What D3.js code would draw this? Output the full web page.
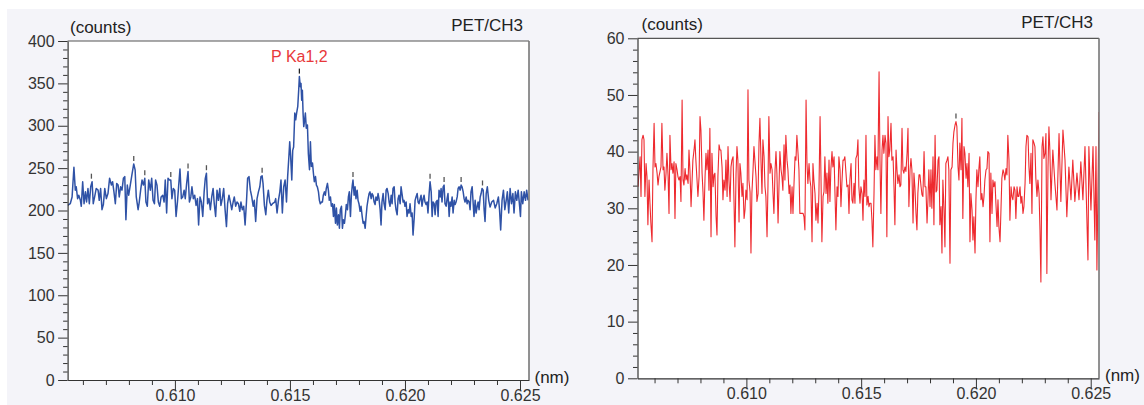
<!DOCTYPE html>
<html><head><meta charset="utf-8">
<script src="https://cdn.jsdelivr.net/npm/d3@7"></script>
<style>
html,body{margin:0;padding:0;background:#fff;}
svg{display:block;font-family:"Liberation Sans",Arial,Helvetica,sans-serif;}
</style></head><body>
<svg id="c" width="1144" height="405"></svg>
<script>
// ---------- DATA ----------
const xMajorTicks = [0.610, 0.615, 0.620, 0.625];
const xMinorTicks = [0.606,0.607,0.608,0.609,0.611,0.612,0.613,0.614,0.616,0.617,0.618,0.619,0.621,0.622,0.623,0.624];
const leftYMajor = [0,50,100,150,200,250,300,350,400];
const rightYMajor = [0,10,20,30,40,50,60];
const crystalLabel = "PET/CH3";
const yUnitLabel = "(counts)";
const xUnitLabel = "(nm)";
const peakName = "P Ka1,2";
const peakWavelength = 0.61541;

const leftWavelength = [
0.60534,0.60545,0.60553,0.60561,0.60567,0.60571,0.60577,0.60582,0.60589,0.60593,
0.60599,0.60605,0.60611,0.60616,0.60622,0.60628,0.60634,0.60640,0.60645,0.60651,
0.60658,0.60666,0.60671,0.60677,0.60683,0.60689,0.60695,0.60702,0.60709,0.60716,
0.60724,0.60729,0.60735,0.60741,0.60747,0.60753,0.60758,0.60764,0.60770,0.60776,
0.60782,0.60787,0.60793,0.60799,0.60806,0.60813,0.60821,0.60827,0.60832,0.60840,
0.60845,0.60851,0.60857,0.60863,0.60869,0.60874,0.60880,0.60886,0.60893,0.60899,
0.60905,0.60911,0.60916,0.60922,0.60928,0.60934,0.60940,0.60947,0.60953,0.60958,
0.60964,0.60970,0.60976,0.60982,0.60987,0.60993,0.60999,0.61005,0.61011,0.61016,
0.61022,0.61028,0.61034,0.61040,0.61045,0.61051,0.61057,0.61063,0.61069,0.61074,
0.61080,0.61086,0.61092,0.61098,0.61103,0.61109,0.61115,0.61121,0.61127,0.61132,
0.61137,0.61142,0.61148,0.61154,0.61160,0.61166,0.61171,0.61177,0.61183,0.61189,
0.61195,0.61200,0.61206,0.61212,0.61218,0.61224,0.61229,0.61235,0.61241,0.61247,
0.61253,0.61258,0.61264,0.61270,0.61276,0.61282,0.61287,0.61293,0.61299,0.61305,
0.61311,0.61316,0.61322,0.61328,0.61334,0.61340,0.61345,0.61351,0.61357,0.61363,
0.61369,0.61374,0.61379,0.61383,0.61389,0.61395,0.61400,0.61406,0.61412,0.61418,
0.61424,
0.61434,0.61438,0.61444,0.61450,0.61456,0.61461,0.61467,0.61473,0.61479,0.61485,
0.61490,0.61495,0.61499,0.61503,0.61508,0.61512,0.61516,0.61521,0.61525,0.61529,
0.61534,0.61538,0.61541,0.61545,0.61548,0.61551,0.61554,0.61557,0.61560,0.61564,
0.61567,0.61571,0.61576,0.61580,0.61585,0.61589,0.61593,0.61598,0.61602,0.61606,
0.61611,0.61615,0.61619,0.61624,0.61628,0.61632,0.61637,0.61641,0.61645,0.61650,
0.61654,0.61658,0.61663,0.61667,0.61671,0.61676,0.61680,0.61685,0.61689,0.61693,
0.61698,0.61702,0.61706,0.61711,0.61715,0.61719,0.61724,0.61728,0.61732,0.61737,
0.61741,0.61745,0.61750,0.61754,0.61758,0.61763,0.61767,0.61771,0.61774,0.61779,
0.61783,0.61787,0.61792,0.61796,0.61800,0.61805,0.61809,0.61814,0.61818,0.61822,
0.61827,0.61831,0.61835,0.61840,0.61844,0.61848,0.61853,0.61857,0.61861,0.61866,
0.61870,0.61874,0.61879,0.61883,0.61887,0.61892,0.61896,0.61900,0.61905,0.61909,
0.61914,0.61918,0.61922,0.61927,0.61931,0.61935,0.61940,0.61944,0.61948,0.61953,
0.61957,0.61961,0.61966,0.61970,0.61974,0.61979,0.61983,0.61987,0.61992,0.61996,
0.62000,0.62005,0.62009,0.62014,0.62018,0.62022,0.62027,0.62031,0.62035,0.62040,
0.62044,0.62048,0.62053,0.62057,0.62061,0.62066,0.62070,0.62074,0.62079,0.62083,
0.62087,0.62092,0.62096,0.62100,0.62105,0.62109,0.62114,0.62118,0.62122,0.62127,
0.62131,0.62135,0.62140,0.62144,0.62148,0.62153,0.62157,0.62161,0.62166,0.62170,
0.62174,0.62179,0.62183,0.62187,0.62192,0.62196,0.62200,0.62205,0.62209,0.62214,
0.62218,0.62222,0.62227,0.62231,0.62235,0.62240,0.62244,0.62248,0.62253,0.62257,
0.62261,0.62266,0.62270,0.62274,0.62279,0.62283,0.62287,0.62292,0.62296,0.62300,
0.62305,0.62309,0.62314,0.62318,0.62322,0.62327,0.62331,0.62335,0.62340,0.62344,
0.62348,0.62353,0.62358,0.62364,0.62370,0.62377,0.62385,0.62392,0.62399,0.62406,
0.62411,0.62416,0.62422,0.62428,0.62434,0.62440,0.62445,0.62451,0.62457,0.62463,
0.62469,0.62474,0.62480,0.62486,0.62492,0.62498,0.62502,0.62506,0.62512,0.62518,
0.62524,0.62529,0.62535
];
const leftCounts = [
206,208,216,251,224,228,214,218,212,205,
234,208,222,210,226,208,228,234,208,216,
226,224,212,226,201,207,226,214,220,238,
230,234,222,208,232,230,216,228,224,238,
240,189,230,218,230,242,255,248,216,201,
210,224,236,230,238,210,205,236,224,238,
212,208,236,230,210,205,216,218,210,236,
197,238,236,236,214,226,224,193,210,228,
249,214,216,224,214,232,246,210,216,228,
214,218,206,214,183,216,210,193,222,238,
244,208,214,201,216,226,208,193,224,212,
226,206,214,226,201,181,208,218,210,201,
210,216,205,210,208,199,210,201,205,183,
210,238,240,224,216,205,212,187,214,222,
228,240,241,232,206,195,212,224,210,206,
208,
210,214,197,212,222,236,197,228,236,210,
240,262,281,264,236,271,275,315,307,315,
323,342,358,346,350,330,342,315,299,307,
315,297,301,267,248,281,252,256,244,234,
240,230,228,222,212,208,210,210,218,222,
218,226,232,224,212,216,205,208,193,207,
185,203,183,195,179,201,205,179,189,185,
195,207,201,216,222,193,218,230,236,218,
228,214,224,212,208,199,205,193,185,187,
179,193,205,214,220,222,214,220,218,210,
207,216,212,220,214,201,183,210,220,208,
201,224,226,220,210,205,218,208,226,228,
210,201,195,214,218,208,228,220,210,212,
205,210,193,201,197,208,193,197,171,191,
212,216,220,210,208,214,218,205,214,218,
210,207,210,197,220,234,222,193,210,208,
195,210,212,193,224,216,226,210,228,230,
208,205,214,220,193,210,205,216,197,212,
207,210,216,226,228,224,230,228,222,214,
210,216,208,212,210,201,222,228,210,193,
212,197,205,210,201,216,220,226,224,201,
187,220,228,212,204,210,212,203,208,216,
201,177,212,224,201,212,222,197,226,208,
220,197,222,212,224,206,193,222,208,222,
212,224,212
];
const leftMarkerWavelength = [0.60637,0.60821,0.60869,0.60982,0.61057,0.61137,0.61379,0.61541,0.61774,0.62109,0.62170,0.62244,0.62337];
const leftMarkerCounts     = [234,255,238,236,246,244,241,358,236,234,230,230,226];

const rightWavelength = [
0.60528,0.60532,0.60537,0.60541,0.60545,0.60550,0.60554,0.60558,0.60563,0.60567,
0.60571,0.60576,0.60580,0.60584,0.60589,0.60593,0.60598,0.60602,0.60606,0.60611,
0.60615,0.60619,0.60624,0.60628,0.60632,0.60637,0.60641,0.60645,0.60650,0.60654,
0.60659,0.60663,0.60667,0.60672,0.60676,0.60680,0.60685,0.60689,0.60693,0.60698,
0.60702,0.60706,0.60711,0.60715,0.60720,0.60724,0.60728,0.60733,0.60737,0.60741,
0.60746,0.60750,0.60754,0.60759,0.60763,0.60767,0.60772,0.60776,0.60780,0.60785,
0.60789,0.60794,0.60798,0.60802,0.60807,0.60811,0.60815,0.60820,0.60824,0.60828,
0.60833,0.60837,0.60841,0.60846,0.60850,0.60855,0.60859,0.60863,0.60868,0.60872,
0.60876,0.60881,0.60885,0.60889,0.60894,0.60898,0.60902,0.60907,0.60911,0.60916,
0.60920,0.60924,0.60929,0.60933,0.60937,0.60942,0.60946,0.60950,0.60955,0.60959,
0.60963,0.60968,0.60972,0.60976,0.60981,0.60985,0.60990,0.60994,0.60998,0.61003,
0.61007,0.61011,0.61016,0.61020,0.61024,0.61029,0.61033,0.61037,0.61042,0.61046,
0.61051,0.61055,0.61059,0.61064,0.61068,0.61072,0.61077,0.61081,0.61085,0.61090,
0.61094,0.61098,0.61103,0.61107,
0.61112,0.61116,0.61120,0.61125,0.61129,0.61133,0.61138,0.61142,0.61146,0.61151,
0.61155,0.61159,0.61164,0.61168,0.61172,0.61177,0.61181,0.61186,0.61190,0.61194,
0.61199,0.61203,0.61207,0.61212,0.61216,0.61220,0.61225,0.61229,0.61233,0.61238,
0.61242,0.61247,0.61251,0.61255,0.61260,0.61264,0.61268,0.61273,0.61277,0.61281,
0.61286,0.61290,0.61294,0.61299,0.61303,0.61308,0.61312,0.61316,0.61321,0.61325,
0.61329,0.61334,0.61338,0.61342,0.61347,0.61351,0.61355,0.61360,0.61364,0.61368,
0.61373,0.61377,0.61382,0.61386,0.61390,0.61395,0.61399,0.61403,0.61408,0.61412,
0.61416,0.61421,0.61425,0.61429,0.61434,0.61438,0.61443,0.61447,0.61451,0.61456,
0.61460,0.61464,0.61469,0.61473,0.61477,0.61482,0.61486,0.61490,0.61495,0.61499,
0.61504,0.61508,0.61512,0.61517,0.61521,0.61525,0.61530,0.61534,0.61538,0.61543,
0.61547,0.61551,0.61556,0.61560,0.61564,0.61569,0.61573,0.61578,0.61582,0.61586,
0.61591,0.61595,0.61599,0.61604,0.61608,0.61612,0.61617,0.61621,0.61625,0.61630,
0.61634,0.61639,0.61643,0.61647,0.61652,0.61656,0.61660,0.61665,0.61669,0.61673,
0.61678,0.61682,0.61686,0.61691,0.61695,0.61700,0.61704,0.61708,0.61713,
0.61717,0.61721,0.61726,0.61730,0.61734,0.61739,0.61743,0.61747,0.61752,0.61756,
0.61761,0.61765,0.61769,0.61774,0.61778,0.61782,0.61787,0.61791,0.61795,0.61800,
0.61804,0.61808,0.61813,0.61817,0.61822,0.61826,0.61830,0.61835,0.61839,0.61843,
0.61848,0.61852,0.61856,0.61861,0.61865,0.61869,0.61874,0.61878,0.61882,0.61887,
0.61891,0.61896,0.61900,0.61904,0.61909,0.61913,0.61917,0.61922,0.61926,0.61930,
0.61935,0.61939,0.61943,0.61948,0.61952,0.61957,0.61961,0.61965,0.61970,0.61974,
0.61978,0.61983,0.61987,0.61991,0.61996,0.62000,0.62004,0.62009,0.62013,0.62017,
0.62022,0.62026,0.62031,0.62035,0.62039,0.62044,0.62048,0.62052,0.62057,0.62061,
0.62065,0.62070,0.62074,0.62078,0.62083,0.62087,0.62092,0.62096,0.62100,0.62105,
0.62109,0.62113,0.62118,0.62122,0.62126,0.62131,0.62135,0.62139,0.62144,0.62148,
0.62153,0.62157,0.62161,0.62166,0.62170,0.62174,0.62179,0.62183,0.62187,0.62192,
0.62196,0.62200,0.62205,0.62209,0.62214,0.62218,0.62222,0.62227,0.62231,0.62235,
0.62240,0.62244,0.62248,0.62253,0.62257,0.62261,0.62266,0.62270,0.62275,0.62279,
0.62283,0.62288,0.62292,0.62296,0.62301,0.62305,0.62309,0.62314,0.62318,0.62322,
0.62327,
0.62335,0.62344,0.62353,0.62362,0.62370,0.62379,0.62388,0.62396,0.62405,0.62414,
0.62422,0.62431,0.62440,0.62449,0.62457,0.62466,0.62475,0.62488,0.62492,0.62501,
0.62510,0.62518,0.62523,0.62527,0.62536
];
const rightCounts = [
33.8,36.2,39.1,32.1,42.1,42.9,42.1,32.1,37.9,35.6,
27.1,35.0,30.9,27.4,24.1,36.8,45.0,37.3,37.9,36.2,
34.1,35.6,36.5,37.3,45.0,36.8,37.3,33.2,36.2,39.7,
35.6,29.1,42.9,36.8,37.9,36.2,38.2,28.2,37.9,36.8,
35.6,35.0,35.6,31.2,49.1,35.0,34.1,37.0,35.0,35.9,
34.4,40.3,36.8,30.3,34.4,38.5,40.3,42.1,38.5,35.0,
32.1,35.6,46.2,43.8,36.2,32.9,27.9,35.6,39.7,36.8,
40.3,33.2,44.1,25.0,39.7,33.8,35.9,36.2,28.5,25.3,
35.6,41.2,40.3,40.3,37.3,31.5,35.0,33.2,38.5,32.1,
40.9,35.0,31.2,37.3,38.5,39.1,31.5,23.2,36.2,40.9,
38.5,27.6,37.9,36.2,32.1,34.4,28.2,29.7,33.2,31.5,
50.9,35.0,32.9,22.1,32.6,36.8,40.9,38.5,35.6,31.2,
32.6,41.5,45.9,37.9,32.6,42.1,39.1,33.8,32.1,25.0,
33.8,46.2,36.2,37.9,
36.8,32.6,29.1,36.8,40.0,36.2,27.4,33.8,40.0,36.8,
35.6,33.2,41.2,35.0,42.9,38.5,36.8,32.6,34.1,29.1,
33.8,29.1,33.8,39.1,38.5,42.9,39.7,36.8,29.1,29.1,
29.1,29.1,28.5,26.2,49.1,37.9,34.4,37.9,35.0,33.8,
24.1,37.9,35.0,32.6,27.9,30.9,27.4,32.6,46.2,35.6,
24.1,32.1,32.9,39.1,32.6,36.2,30.9,38.5,31.2,36.8,
40.0,37.3,39.1,32.6,26.2,33.8,32.1,39.1,36.8,30.3,
34.4,38.5,38.5,39.1,36.2,33.8,34.1,29.1,35.0,37.9,
31.5,30.9,34.4,30.9,38.8,39.4,42.1,33.8,30.9,33.8,
32.6,27.9,35.0,32.1,42.9,30.6,32.1,30.3,30.9,30.9,
27.9,23.2,32.6,42.9,36.8,39.1,36.8,54.1,38.5,29.1,
40.3,42.9,39.7,42.9,41.5,25.0,46.2,39.1,40.3,45.0,
38.5,39.1,33.8,27.1,40.3,36.8,34.4,35.9,33.8,34.1,
44.1,36.8,36.2,37.3,36.5,39.7,44.1,30.3,36.8,
38.8,36.8,27.4,36.2,33.8,29.1,26.2,32.6,35.9,35.9,
33.8,32.4,32.1,40.0,33.8,33.8,27.4,31.5,36.8,30.3,
36.8,30.0,39.1,27.1,42.9,32.9,33.2,38.5,39.1,27.1,
30.3,22.1,35.0,29.7,23.2,37.9,38.5,39.1,36.8,20.3,
36.8,37.3,41.5,43.5,44.7,45.3,44.4,37.3,35.0,41.5,
36.8,45.9,28.2,40.9,39.7,35.3,37.9,33.8,39.7,24.1,
32.6,29.7,24.4,28.5,22.1,31.5,36.8,33.8,37.0,39.1,
31.5,32.6,30.3,32.1,35.0,36.8,37.0,40.0,39.7,24.1,
36.2,29.1,35.0,33.8,34.7,30.9,26.8,31.5,26.8,24.1,
29.7,35.3,36.8,36.2,35.0,37.0,35.9,42.9,38.5,27.9,
33.8,32.1,31.5,33.8,33.2,28.2,33.8,32.1,32.1,33.8,
30.9,32.1,29.1,30.3,34.4,40.9,42.9,42.6,37.3,34.4,
39.7,29.1,42.1,41.5,40.9,35.3,32.1,35.0,32.6,26.2,
17.0,40.9,42.6,38.8,39.7,43.2,18.5,37.3,44.4,40.3,
31.5,
40.3,34.4,29.7,43.2,31.2,43.8,38.5,28.5,37.3,31.5,
38.5,31.2,36.2,31.5,38.2,31.5,40.9,20.9,40.9,29.7,
40.9,24.4,40.9,19.1,47.0
];
const rightMarkerWavelength = [0.61913];
const rightMarkerCounts = [45.3];

// ---------- LAYOUT ----------
const svg = d3.select("#c");
svg.append("rect").attr("x",7).attr("y",9).attr("width",1137).attr("height",396).attr("fill","#f4f4f9");

const panels = [
  {id:"L", x0:67.6, x1:529, y0:41, y1:380, xDomain:[0.605335,0.625391], yDomain:[0,400],
   yMajor:leftYMajor, yMinorStep:10, wl:leftWavelength, counts:leftCounts, color:"#2f52a6", width:1.5,
   mWl:leftMarkerWavelength, mC:leftMarkerCounts, peak:true,
   countsX:70, crystalEnd:523, unitX:534.5},
  {id:"R", x0:637.5, x1:1099, y0:38.3, y1:378.3, xDomain:[0.605257,0.625361], yDomain:[0,60],
   yMajor:rightYMajor, yMinorStep:2, wl:rightWavelength, counts:rightCounts, color:"#ee2a2f", width:1.1,
   mWl:rightMarkerWavelength, mC:rightMarkerCounts, peak:false,
   countsX:641.5, crystalEnd:1093, unitX:1105}
];

panels.forEach(p => {
  const x = d3.scaleLinear().domain(p.xDomain).range([p.x0, p.x1]);
  const y = d3.scaleLinear().domain(p.yDomain).range([p.y1, p.y0]);
  const g = svg.append("g");

  g.append("rect").attr("x",p.x0).attr("y",p.y0).attr("width",p.x1-p.x0).attr("height",p.y1-p.y0).attr("fill","#fff");

  g.append("clipPath").attr("id","clip"+p.id).append("rect")
    .attr("x",p.x0).attr("y",p.y0).attr("width",p.x1-p.x0).attr("height",p.y1-p.y0);

  const idx = d3.range(p.wl.length);
  const line = d3.line().x(i => x(p.wl[i])).y(i => y(p.counts[i]));
  g.append("path").datum(idx).attr("d",line).attr("fill","none")
    .attr("stroke",p.color).attr("stroke-width",p.width).attr("stroke-linejoin","round")
    .attr("clip-path","url(#clip"+p.id+")");

  // peak markers
  g.selectAll(".mk").data(d3.range(p.mWl.length)).enter().append("line")
    .attr("x1",i=>x(p.mWl[i])).attr("x2",i=>x(p.mWl[i]))
    .attr("y1",i=>y(p.mC[i])-3).attr("y2",i=>y(p.mC[i])-8)
    .attr("stroke",(i)=> (p.peak && p.mWl[i]===peakWavelength) ? "#222" : "#555").attr("stroke-width",1.3);

  // border top/right
  g.append("line").attr("x1",p.x0).attr("x2",p.x1).attr("y1",p.y0).attr("y2",p.y0).attr("stroke","#555").attr("stroke-width",1.2);
  g.append("line").attr("x1",p.x1).attr("x2",p.x1).attr("y1",p.y0).attr("y2",p.y1).attr("stroke","#777").attr("stroke-width",1.6);

  // y axis minor
  const yMinor = d3.range(p.yDomain[0], p.yDomain[1]+0.001, p.yMinorStep).filter(v => !p.yMajor.includes(v));
  g.append("g").attr("transform",`translate(${p.x0},0)`)
    .call(d3.axisLeft(y).tickValues(yMinor).tickSize(4.5).tickSizeOuter(0).tickFormat(""))
    .call(a=>a.select(".domain").remove()).call(a=>a.selectAll("line").attr("stroke","#333"));
  // y axis major
  g.append("g").attr("transform",`translate(${p.x0},0)`)
    .call(d3.axisLeft(y).tickValues(p.yMajor).tickSize(9.5).tickSizeOuter(0).tickPadding(3.5).tickFormat(d3.format("d")))
    .call(a=>a.select(".domain").attr("stroke","#333").attr("stroke-width",1.2))
    .call(a=>a.selectAll("line").attr("stroke","#333"))
    .call(a=>a.selectAll("text").attr("fill","#333").style("font-size","16px").style("font-family","'Liberation Sans',Arial,sans-serif"));

  // x axis minor
  g.append("g").attr("transform",`translate(0,${p.y1})`)
    .call(d3.axisBottom(x).tickValues(xMinorTicks).tickSize(5).tickSizeOuter(0).tickFormat(""))
    .call(a=>a.select(".domain").remove()).call(a=>a.selectAll("line").attr("stroke","#333"));
  // x axis major
  g.append("g").attr("transform",`translate(0,${p.y1})`)
    .call(d3.axisBottom(x).tickValues(xMajorTicks).tickSize(10).tickSizeOuter(0).tickFormat(d3.format(".3f")))
    .call(a=>a.select(".domain").attr("stroke","#333").attr("stroke-width",1.2))
    .call(a=>a.selectAll("line").attr("stroke","#333"))
    .call(a=>a.selectAll("text").attr("fill","#333").attr("y",21).attr("dy",null)
      .style("font-size","16px").style("font-family","'Liberation Sans',Arial,sans-serif"));

  // labels
  g.append("text").attr("x",p.countsX).attr("y",p.y0-8).attr("fill","#222").style("font-size","17px").text(yUnitLabel);
  g.append("text").attr("x",p.crystalEnd).attr("y",p.y0-10).attr("text-anchor","end").attr("fill","#222").style("font-size","17px").text(crystalLabel);
  g.append("text").attr("x",p.unitX).attr("y",p.y1+3).attr("fill","#222").style("font-size","17px").text(xUnitLabel);

  if (p.peak) {
    const pi = p.wl.indexOf(peakWavelength);
    g.append("text").attr("x",x(peakWavelength)).attr("y",y(p.counts[pi])-15)
      .attr("text-anchor","middle").attr("fill","#e8383a").style("font-size","16px").text(peakName);
  }
});
</script>
</body></html>
